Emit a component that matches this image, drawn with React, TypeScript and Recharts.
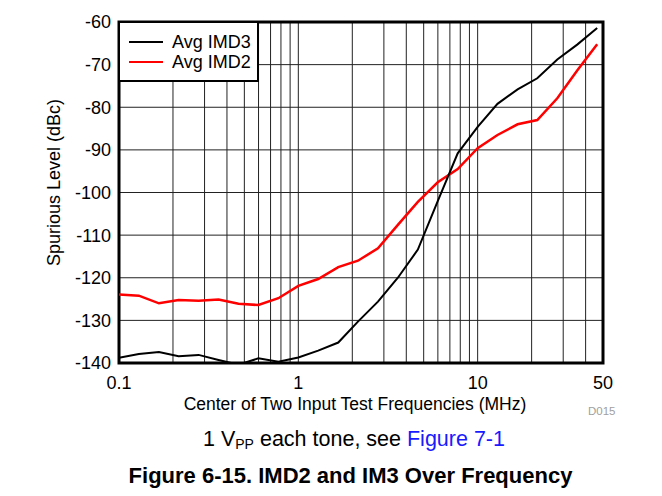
import {
  CartesianGrid,
  Legend,
  Line,
  LineChart,
  ReferenceArea,
  XAxis,
  YAxis,
} from "recharts";

// center frequency of the two tones, MHz
const freqs = [
  0.1, 0.129, 0.167, 0.215, 0.278, 0.359, 0.464, 0.599, 0.774, 1.0, 1.29, 1.67, 2.15,
  2.78, 3.59, 4.64, 5.99, 7.74, 10.0, 12.9, 16.7, 21.5, 27.8, 35.9, 46.4,
];

const imd3 = [
  -138.8, -137.9, -137.4, -138.4, -138.1, -139.3, -140.4, -138.9, -139.7, -138.7, -137.1,
  -135.2, -130.3, -125.6, -120.0, -113.4, -102.0, -90.8, -84.6, -79.2, -75.8, -73.2, -68.8,
  -65.3, -61.4,
];

const imd2 = [
  -123.9, -124.2, -126.0, -125.2, -125.4, -125.1, -126.1, -126.4, -124.8, -121.9, -120.3,
  -117.5, -116.0, -113.1, -107.6, -102.2, -97.6, -94.5, -89.6, -86.5, -84.0, -83.0, -77.9,
  -71.4, -65.2,
];

const xGridTicks = [
  0.1, 0.2, 0.3, 0.4, 0.5, 0.6, 0.7, 0.8, 0.9, 1, 2, 3, 4, 5, 6, 7, 8, 9, 10, 20, 30, 40, 50,
];
const xLabelTicks = [0.1, 1, 10, 50];
const yTicks = [-140, -130, -120, -110, -100, -90, -80, -70, -60];

const legendItems = [
  { name: "Avg IMD3", color: "#000000", width: 2 },
  { name: "Avg IMD2", color: "#ff0000", width: 2.5 },
];

const FONT = "'Liberation Sans', Arial, Helvetica, sans-serif";

const rows = freqs.map((f, i) => ({ f, imd3: imd3[i], imd2: imd2[i] }));

function LegendBox() {
  return (
    <div
      style={{
        width: 137,
        border: "2px solid #000",
        background: "#fff",
        padding: "9px 0 8px 0",
        fontFamily: FONT,
        fontSize: 18,
        color: "#000",
      }}
    >
      {legendItems.map((item) => (
        <div
          key={item.name}
          style={{ display: "flex", alignItems: "center", height: 20, lineHeight: "20px" }}
        >
          <span
            style={{
              display: "inline-block",
              width: 34,
              height: item.width,
              background: item.color,
              marginLeft: 9,
              marginRight: 9,
            }}
          />
          <span>{item.name}</span>
        </div>
      ))}
    </div>
  );
}

export default function App() {
  const fmtX = (v: number) => (xLabelTicks.includes(v) ? String(v) : "");

  return (
    <div
      style={{
        position: "relative",
        width: 662,
        height: 496,
        margin: -8,
        overflow: "hidden",
        background: "#fff",
        fontFamily: FONT,
      }}
    >
      {/* page frame */}
      <div
        style={{
          position: "absolute",
          left: 1,
          top: 4,
          right: 0,
          bottom: 0,
          borderTop: "1px solid #333",
          borderLeft: "1px solid #333",
        }}
      />
      <div style={{ position: "absolute", left: 0, top: 0 }}>
        <LineChart
          width={662}
          height={420}
          data={rows}
          margin={{ top: 22, right: 59, left: 39, bottom: 7 }}
        >
          <CartesianGrid stroke="#222" strokeWidth={1} />
          <XAxis
            dataKey="f"
            type="number"
            scale="log"
            domain={[0.1, 50]}
            allowDataOverflow
            ticks={xGridTicks}
            tickFormatter={fmtX}
            interval={0}
            tickLine={false}
            axisLine={false}
            tickMargin={7}
            height={50}
            tick={{ fill: "#000", fontSize: 18, fontFamily: FONT }}
            label={{
              value: "Center of Two Input Test Frequencies (MHz)",
              position: "insideBottom",
              offset: 3,
              dx: -6,
              fill: "#000",
              fontSize: 17.5,
              fontFamily: FONT,
            }}
          />
          <YAxis
            type="number"
            domain={[-140, -60]}
            allowDataOverflow
            ticks={yTicks}
            interval={0}
            tickLine={false}
            axisLine={false}
            width={80}
            tick={{ fill: "#000", fontSize: 18, fontFamily: FONT }}
            label={{
              value: "Spurious Level (dBc)",
              angle: -90,
              position: "center",
              dx: -25,
              dy: -10,
              fill: "#000",
              fontSize: 18,
              fontFamily: FONT,
            }}
          />
          <Line
            type="linear"
            dataKey="imd2"
            stroke="#ff0000"
            strokeWidth={2.5}
            dot={false}
            isAnimationActive={false}
          />
          <Line
            type="linear"
            dataKey="imd3"
            stroke="#000000"
            strokeWidth={2}
            dot={false}
            isAnimationActive={false}
          />
          <ReferenceArea
            x1={0.1}
            x2={50}
            y1={-140}
            y2={-60}
            fill="none"
            fillOpacity={0}
            stroke="#000"
            strokeWidth={3}
            ifOverflow="visible"
          />
          <Legend
            layout="horizontal"
            verticalAlign="middle"
            align="center"
            content={() => <LegendBox />}
            wrapperStyle={{ left: 118, top: 21, width: "auto" }}
          />
        </LineChart>
      </div>
      <div
        style={{
          position: "absolute",
          left: 588,
          top: 405,
          fontSize: 11.5,
          color: "#a0a0a0",
        }}
      >
        D015
      </div>
      <div
        style={{
          position: "absolute",
          left: 0,
          width: 708,
          top: 427,
          textAlign: "center",
          fontSize: 21.5,
          color: "#000",
        }}
      >
        1 V<sub style={{ fontSize: 14, verticalAlign: "-3px" }}>PP</sub> each tone, see{" "}
        <span style={{ color: "#1a1aff" }}>Figure 7-1</span>
      </div>
      <div
        style={{
          position: "absolute",
          left: 0,
          width: 701,
          top: 463,
          textAlign: "center",
          fontSize: 22,
          lineHeight: "26px",
          fontWeight: "bold",
          color: "#000",
        }}
      >
        Figure 6-15. IMD2 and IM3 Over Frequency
      </div>
    </div>
  );
}
